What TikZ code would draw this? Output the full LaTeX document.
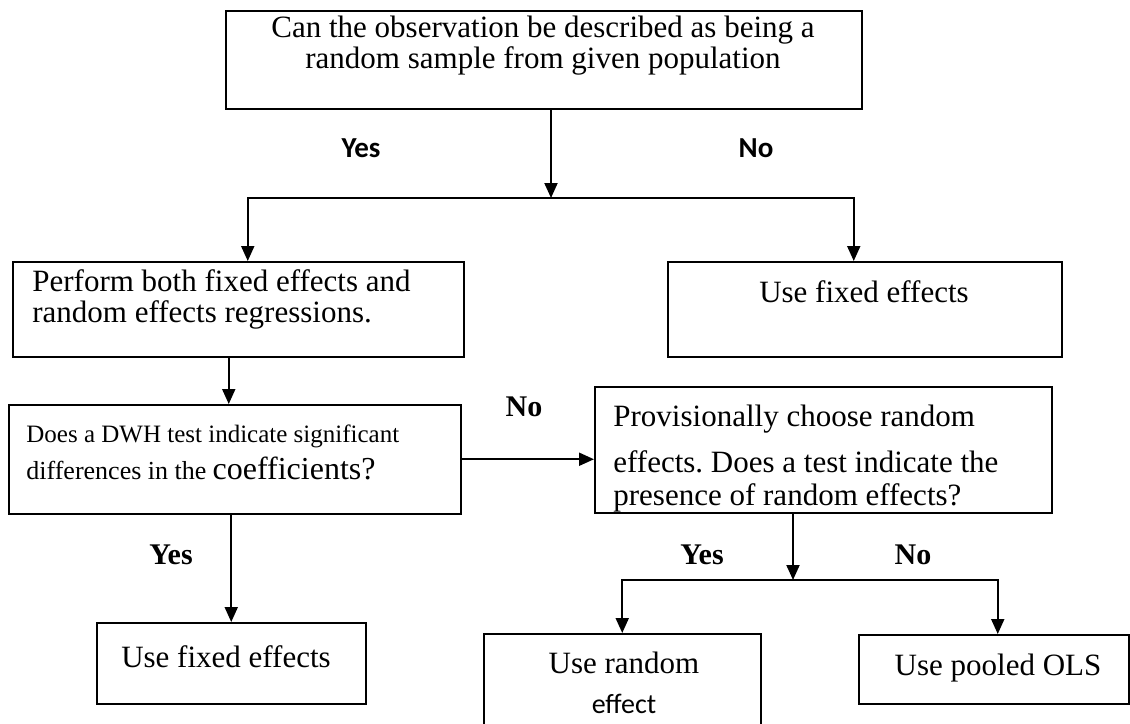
\documentclass[tikz,border=0pt]{standalone}
\usepackage{fontspec}
\setmainfont{Liberation Serif}
\newfontfamily\calibrifont{Carlito}
\usetikzlibrary{arrows.meta}
\frenchspacing

\tikzset{
  flowbox/.style={draw, line width=0.75pt, inner sep=0pt, anchor=north west},
  flowtext/.style={inner sep=0pt, font=\fontsize{15.5}{15.5}\selectfont},
  conn/.style={line width=1pt, -{Triangle[length=7.5pt,width=6.5pt]}},
  yesno/.style={inner sep=0pt, font=\fontsize{15}{15}\selectfont\bfseries},
  yesnosans/.style={inner sep=0pt, font=\calibrifont\fontsize{14.5}{14.5}\selectfont\bfseries}
}

\begin{document}
\begin{tikzpicture}[x=0.5pt,y=0.5pt,yscale=-1,xscale=1]
    \useasboundingbox (0,0) rectangle (1130,723);

    %Boxes
    \node[flowbox, minimum width=318pt, minimum height=49pt] (top) at (225,10) {};
    \node[flowbox, minimum width=225.5pt, minimum height=47.5pt] (perform) at (12,261) {};
    \node[flowbox, minimum width=197pt, minimum height=47.5pt] (usefe) at (667,261) {};
    \node[flowbox, minimum width=226pt, minimum height=54.5pt] (dwh) at (8,404) {};
    \node[flowbox, minimum width=228.5pt, minimum height=63pt] (prov) at (594,386) {};
    \node[flowbox, minimum width=134.5pt, minimum height=40.5pt] (usefetwo) at (96,622) {};
    \node[flowbox, minimum width=138.5pt, minimum height=47pt] (userandom) at (483,633) {};
    \node[flowbox, minimum width=135pt, minimum height=34.5pt] (usepooled) at (858,634) {};

    % Text Node
    \node[flowtext, anchor=north, align=center] (toptext) at (543,16) {Can the observation be described as being a\\random sample from given population};
    % Text Node
    \node[flowtext, anchor=north west, align=left] (performtext) at (32,269) {Perform both fixed effects and\\random effects regressions.};
    % Text Node
    \node[flowtext, anchor=base] (usefetext) at (864,302) {Use fixed effects};
    % Text Node
    \node[inner sep=0pt, anchor=north west, align=left, font=\fontsize{12.5}{14}\selectfont] (dwhtext) at (26,424) {Does a DWH test indicate significant\\[4.5pt]{\fontsize{13}{14}\selectfont differences in the} {\fontsize{16}{16}\selectfont coefficients?}};
    % Text Node
    \node[flowtext, anchor=north west, align=left] (provtext) at (613,405) {Provisionally choose random\\[7.5pt]effects. Does a test indicate the\\[1pt]presence of random effects?};
    % Text Node
    \node[flowtext, anchor=base] (usefetwotext) at (226,667) {Use fixed effects};
    % Text Node
    \node[flowtext, anchor=north, align=center] (userandomtext) at (624,652) {Use random\\[4.5pt]{\calibrifont\fontsize{14}{14}\selectfont effect}};
    % Text Node
    \node[flowtext, anchor=base] (usepooledtext) at (998,675) {Use pooled OLS};

    % Labels
    \node[yesnosans] (yesa) at (361,148) {Yes};
    \node[yesnosans] (noa) at (756,148) {No};
    \node[yesno] (nob) at (524,407) {No};
    \node[yesno] (yesb) at (171,555) {Yes};
    \node[yesno] (yesc) at (702,555) {Yes};
    \node[yesno] (noc) at (913,555) {No};

    %Straight Lines
    \coordinate (splita) at (551,198);
    \draw[conn] (top.south -| splita) -- (splita);
    \draw[conn] (splita) -| ([xshift=4.75pt]perform.north);
    \draw[conn] (splita) -| ([xshift=-5.5pt]usefe.north);
    \draw[conn] ([xshift=-4.75pt]perform.south) -- ([xshift=-4.75pt]perform.south |- dwh.north);
    \draw[conn] (dwh.east) -- (dwh.east -| prov.west);
    \draw[conn] (dwh.south -| usefetwo.north) -- (usefetwo.north);
    %Straight Lines
    \coordinate (splitb) at (793,580);
    \draw[conn] (prov.south -| splitb) -- (splitb);
    \draw[conn] (splitb) -| (userandom.north);
    \draw[conn] (splitb) -| ([xshift=2pt]usepooled.north);
\end{tikzpicture}
\end{document}
